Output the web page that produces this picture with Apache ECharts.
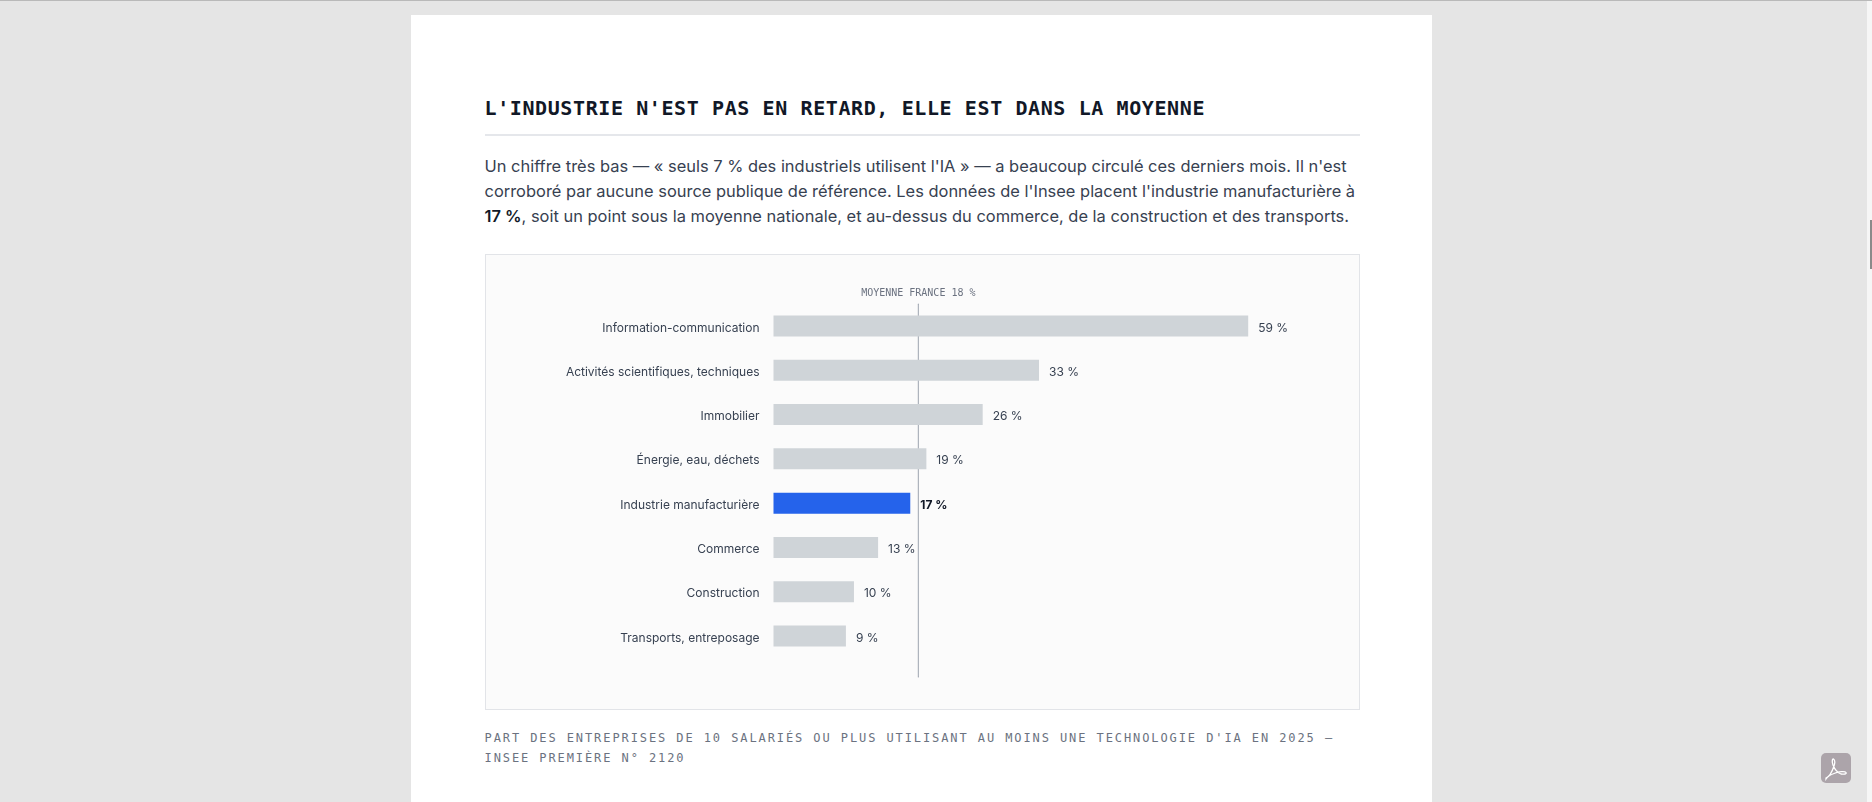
<!DOCTYPE html>
<html lang="fr">
<head>
<meta charset="utf-8">
<title>L'industrie n'est pas en retard</title>
<script src="https://cdn.jsdelivr.net/npm/echarts@6/dist/echarts.min.js"></script>
<style>
html, body { margin: 0; padding: 0; width: 1872px; height: 802px; overflow: hidden; background: #e5e5e5; }
body { font-family: Inter, sans-serif; }
.topline { position: absolute; left: 0; top: 0; width: 100%; height: 1px; background: #b9b9b9; }
.strip { position: absolute; left: 1867px; top: 1px; width: 5px; height: 801px; background: #f6f6f6; }
.thumb { position: absolute; left: 1870px; top: 220px; width: 2px; height: 49px; background: #8a8a8a; }
.page { position: absolute; left: 411px; top: 15px; width: 1021px; height: 787px; background: #fff; }
h2 { position: absolute; left: 484.5px; top: 93.5px; margin: 0; font: bold 20px/28px "DejaVu Sans Mono", monospace; letter-spacing: 0.6px; color: #111827; white-space: nowrap; }
.rule { position: absolute; left: 484.5px; top: 134px; width: 875.5px; height: 2px; background: #e5e7eb; }
p { position: absolute; left: 484.5px; top: 154px; margin: 0; width: 890px; font-size: 16.45px; line-height: 25.2px; color: #374151; white-space: nowrap; }
p b { color: #111827; font-weight: 600; }
.frame { position: absolute; left: 484.5px; top: 254px; width: 873px; height: 453.5px; border: 1px solid #e2e4e8; background-color: #fbfbfb; background-image: radial-gradient(#f3f3f3 0.6px, transparent 0.7px); background-size: 4px 4px; }
#chart { position: absolute; left: 484.5px; top: 254px; width: 875px; height: 455.5px; }
.caption { position: absolute; left: 484.5px; top: 728px; margin: 0; font: 12px/20px "DejaVu Sans Mono", monospace; letter-spacing: 1.91px; color: #6b7280; white-space: nowrap; }
.pdf { position: absolute; left: 1821px; top: 753px; width: 30px; height: 30px; border-radius: 5px; background: #aca4aa; }
</style>
</head>
<body>
<div class="topline"></div>
<div class="strip"></div>
<div class="thumb"></div>
<div class="page"></div>
<h2>L'INDUSTRIE N'EST PAS EN RETARD, ELLE EST DANS LA MOYENNE</h2>
<div class="rule"></div>
<p>Un chiffre très bas — « seuls 7 % des industriels utilisent l'IA » — a beaucoup circulé ces derniers mois. Il n'est<br>corroboré par aucune source publique de référence. Les données de l'Insee placent l'industrie manufacturière à<br><b>17 %</b>, soit un point sous la moyenne nationale, et au-dessus du commerce, de la construction et des transports.</p>
<div class="frame"></div>
<div id="chart"></div>
<div class="caption">PART DES ENTREPRISES DE 10 SALARIÉS OU PLUS UTILISANT AU MOINS UNE TECHNOLOGIE D'IA EN 2025 —<br>INSEE PREMIÈRE N° 2120</div>
<svg class="pdf" viewBox="0 0 30 30"><path d="M5 25c3-1 6-6 8-12 1-3 1-6-.5-7-1.500-.5-1.500 3-.5 6 2 5 5 8 8 9 3 .5 6 0 5-1.500-1-1.500-7-1-12 1-4 1.500-7 4-8 5.500z" fill="none" stroke="#fff" stroke-width="1.300"/></svg>
<script>
// valeurs (%)
const categories = ['Information-communication', 'Activités scientifiques, techniques', 'Immobilier', 'Énergie, eau, déchets', 'Industrie manufacturière', 'Commerce', 'Construction', 'Transports, entreposage'];
const values = [59, 33, 26, 19, 17, 13, 10, 9];
const highlight = 'Industrie manufacturière';
const moyenne = 18;
const moyenneLabel = 'MOYENNE FRANCE 18 %';

const myChart = echarts.init(document.getElementById('chart'));
const xScale = { type: 'value', min: 0, max: 70, show: false };

myChart.setOption({
    animation: false,
    grid: [
        { left: 288.5, top: 49.8, width: 563.2, height: 354.4 },
        { left: 288.5, top: 50, width: 563.2, height: 373 }
    ],
    xAxis: [
        Object.assign({ gridIndex: 0 }, xScale),
        Object.assign({ gridIndex: 1 }, xScale)
    ],
    yAxis: [{
        gridIndex: 0,
        type: 'category',
        inverse: true,
        data: categories,
        axisLine: { show: false },
        axisTick: { show: false },
        axisLabel: { margin: 14, verticalAlign: 'top', lineHeight: 4, fontFamily: 'Inter', fontSize: 12, color: '#374151' }
    }, {
        gridIndex: 1,
        type: 'value',
        min: 0,
        max: 1,
        show: false
    }],
    series: [{
        type: 'line',
        xAxisIndex: 1,
        yAxisIndex: 1,
        z: 1,
        symbol: 'circle',
        symbolSize: 1,
        showSymbol: true,
        silent: true,
        itemStyle: { color: '#9ca3af' },
        lineStyle: { color: '#9ca3af', width: 1 },
        data: [
            [moyenne, 0],
            {
                value: [moyenne, 1],
                label: {
                    show: true,
                    position: 'top',
                    distance: 5,
                    formatter: moyenneLabel,
                    fontFamily: 'DejaVu Sans Mono',
                    fontSize: 10,
                    color: '#6b7280'
                }
            }
        ]
    }, {
        type: 'bar',
        xAxisIndex: 0,
        yAxisIndex: 0,
        z: 2,
        barWidth: 21,
        data: categories.map((name, i) => {
            const isHl = name === highlight;
            return {
                value: values[i],
                itemStyle: { color: isHl ? '#2563eb' : '#cfd4d8' },
                label: isHl ? { fontWeight: 'bold', color: '#111827' } : {}
            };
        }),
        label: {
            show: true,
            position: 'right',
            distance: 10,
            offset: [0, 2],
            fontFamily: 'Inter',
            fontSize: 12,
            color: '#374151',
            formatter: p => p.value + ' %'
        }
    }]
});
</script>
</body>
</html>
